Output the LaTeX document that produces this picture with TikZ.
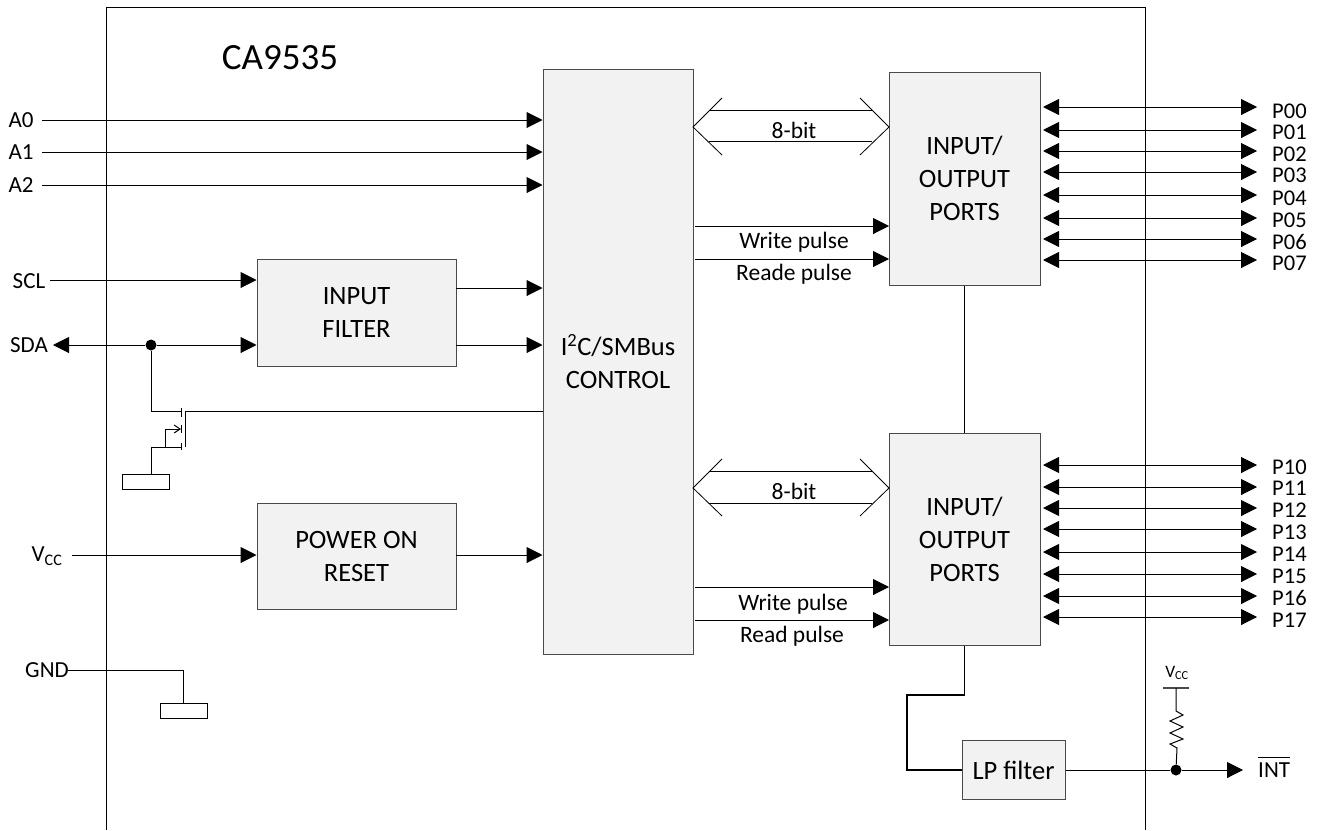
\documentclass[tikz,border=0pt]{standalone}
\usepackage{fontspec}
\setmainfont{Carlito}
\usetikzlibrary{arrows.meta}
\definecolor{blockfill}{HTML}{F2F2F2}
\definecolor{blockline}{HTML}{4A4A4A}
\tikzset{
  block/.style={draw=blockline,fill=blockfill,line width=1pt,inner sep=0pt,align=center,font=\fontsize{26.5}{33}\selectfont},
  sig/.style={inner sep=0pt,font=\fontsize{23}{26}\selectfont},
  port/.style={inner sep=0pt,anchor=west,font=\fontsize{22.5}{24}\selectfont},
  small/.style={inner sep=0pt,font=\fontsize{23.5}{26}\selectfont},
  gnd/.style={draw=black,fill=white,line width=1pt,minimum width=47pt,minimum height=15pt,inner sep=0pt},
  dot/.style={circle,fill=black,inner sep=0pt,minimum size=11pt},
  wire/.style={line width=1pt},
  arrow/.style={line width=1pt,-{Triangle[length=16pt,width=16pt]}},
  biarrow/.style={line width=1pt,{Triangle[length=16pt,width=16pt]}-{Triangle[length=16pt,width=16pt]}},
}
\begin{document}
\begin{tikzpicture}[x=1pt,y=-1pt]
\useasboundingbox (0,0) rectangle (1321,830);

% outline of the chip
\coordinate (frameBL) at (106,830);
\coordinate (frameTL) at (106,7);
\coordinate (frameTR) at (1145,7);
\coordinate (frameBR) at (1145,830);
\draw[wire] (frameBL) -- (frameTL) -- (frameTR) -- (frameBR);
\node[font=\fontsize{37}{42}\selectfont,inner sep=0pt] (title) at (280,58) {CA9535};

% blocks
\node[block,minimum width=150pt,minimum height=585pt] (ctrl) at (618,361.5) {I\textsuperscript{2}C/SMBus\\CONTROL};
\node[block,minimum width=151pt,minimum height=213pt] (portsA) at (964.5,178.5) {INPUT/\\OUTPUT\\PORTS};
\node[block,minimum width=151pt,minimum height=212pt] (portsB) at (964.5,539) {INPUT/\\OUTPUT\\PORTS};
\node[block,minimum width=199pt,minimum height=107pt] (filter) at (356.5,312.5) {INPUT\\FILTER};
\node[block,minimum width=199pt,minimum height=106pt] (reset) at (356.5,556) {POWER ON\\RESET};
\node[block,minimum width=103pt,minimum height=59pt] (lp) at (1013.5,770) {LP filter};

% address pins
\foreach \n/\y in {0/120,1/152,2/185} {
  \node[sig] (a\n) at (21,\y) {A\n};
  \coordinate (as\n) at (42,\y);
  \draw[arrow] (as\n) -- (as\n -| ctrl.west);
}

% SCL and SDA
\node[sig] (scl) at (29,281) {SCL};
\coordinate (sclS) at (50,280);
\draw[arrow] (sclS) -- (sclS -| filter.west);
\node[sig] (sda) at (29,345) {SDA};
\coordinate (sdaS) at (53,345);
\node[dot] (sdaDot) at (151,345) {};
\draw[wire,{Triangle[length=16pt,width=16pt]}-] (sdaS) -- (sdaDot);
\draw[arrow] (sdaDot) -- (sdaDot -| filter.west);
\coordinate (filtA) at (456,288);
\coordinate (filtB) at (456,345);
\draw[arrow] (filtA) -- (filtA -| ctrl.west);
\draw[arrow] (filtB) -- (filtB -| ctrl.west);

% pull down transistor
\coordinate (drain) at (181,411);
\coordinate (source) at (181,447);
\coordinate (gate) at (185,411);
\coordinate (gateB) at (185,447);
\coordinate (body) at (181,429);
\coordinate (bodyB) at (165,447);
\node[gnd,anchor=north] (gndA) at (146,474) {};
\draw[wire] (sdaDot) |- (drain);
\draw[wire] (gateB) -- (gate) -- (gate -| ctrl.west);
\draw[wire] (181,408) -- (181,417);
\draw[wire] (181,425) -- (181,433);
\draw[wire] (181,443) -- (181,450);
\draw[wire] (gndA.north -| sdaDot) |- (source);
\draw[wire,-{Straight Barb[length=6pt,width=8pt]}] (bodyB) |- (body);

% power on reset and ground
\node[sig] (vcc) at (47,556) {V\textsubscript{CC}};
\coordinate (vccS) at (72,555);
\draw[arrow] (vccS) -- (vccS -| reset.west);
\coordinate (resetS) at (456,555);
\draw[arrow] (resetS) -- (resetS -| ctrl.west);
\node[sig] (gnd) at (47,670) {GND};
\coordinate (gndS) at (68,670);
\node[gnd,anchor=north] (gndB) at (183.5,703) {};
\draw[wire] (gndS) -| (gndB.north);

% bus between control and ports
\foreach \s/\t/\ya/\yb/\ym in {ctrl/portsA/110/141/127,ctrl/portsB/471/503/488} {
  \coordinate (busL\ya) at (693,\ym);
  \coordinate (busR\ya) at (889,\ym);
  \draw[line width=0.8pt] (722,\ym-29) -- (busL\ya) -- (722,\ym+28);
  \draw[line width=0.8pt] (860,\ym-29) -- (busR\ya) -- (860,\ym+28);
  \draw[line width=0.8pt] (709,\ya) -- (872,\ya);
  \draw[line width=0.8pt] (709,\yb) -- (872,\yb);
  \node[small] (bit\ya) at (794,\ym+3) {8-bit};
}

% pulses
\foreach \y/\ly/\x/\txt in {226/242/794/Write pulse,259/274/794/Reade pulse,587/604/793/Write pulse,620/636/792/Read pulse} {
  \coordinate (pulse\y) at (695,\y);
  \draw[arrow] (pulse\y) -- (889,\y);
  \node[small] (pulseT\y) at (\x,\ly) {\txt};
}

% port pins
\foreach \n/\y/\ly in {00/107/111,01/130/132.5,02/151/154,03/172/175,04/195/198,05/218/220,06/239/241.5,07/260/263,
                       10/465/467,11/487/488.5,12/508/510,13/529/532,14/552/554,15/574/576,16/596/597.5,17/617/620} {
  \coordinate (pl\n) at (1043,\y);
  \coordinate (pr\n) at (1257,\y);
  \draw[biarrow] (pl\n) -- (pr\n);
  \node[port] (p\n) at (1272,\ly) {P\n};
}

% between the two ports
\draw[wire] (portsA.south) -- (portsB.north);
\coordinate (jogA) at (964.5,695);
\coordinate (jogB) at (907,695);
\draw[line width=1.8pt] (portsB.south) -- (jogA) -- (jogB) |- (lp.west);

% interrupt output
\node[dot] (intDot) at (1176,770) {};
\node[sig,anchor=west] (int) at (1258,767) {$\overline{\mbox{\rule{0pt}{18pt}INT}}$};
\coordinate (intE) at (1243,770);
\draw[wire] (lp.east) -- (intDot);
\draw[arrow] (intDot) -- (intE);
\coordinate (rail) at (1176,688);
\coordinate (railL) at (1163,688);
\coordinate (railR) at (1189,688);
\draw[line width=1.4pt,blockline] (railL) -- (railR);
\draw[wire] (rail) -- (1176,711) -- (1183,715) -- (1170,721) -- (1183,727) -- (1170,733) -- (1183,739) -- (1170,744) -- (1177,748) -- (intDot);
\node[inner sep=0pt,font=\fontsize{17.5}{20}\selectfont] (vccB) at (1177,673) {V\textsubscript{CC}};
\end{tikzpicture}
\end{document}
